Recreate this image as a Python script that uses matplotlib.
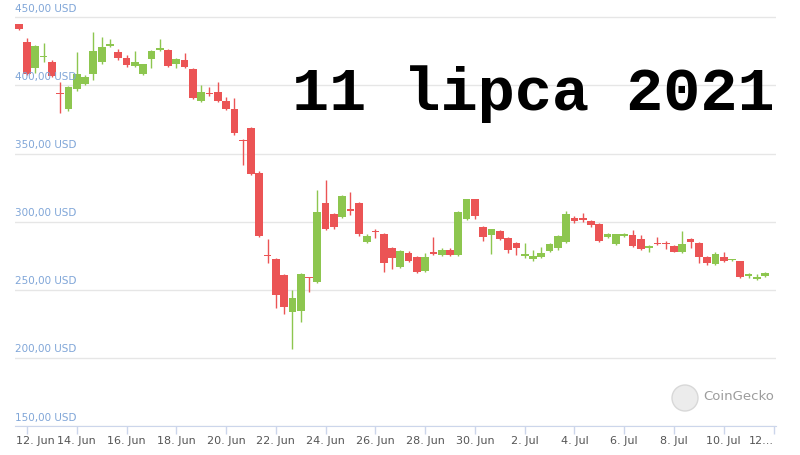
import matplotlib.pyplot as plt
import matplotlib.dates as mdates
from matplotlib.patches import Circle
from matplotlib.transforms import IdentityTransform
import numpy as np
import pandas as pd

# 8-hour candles, 11 Jun 16:00 -> 11 Jul 16:00 (USD)
opens = [444.9, 431.9, 413.0, 420.8, 417.0, 394.8, 382.5, 397.2, 400.9, 408.4,
         417.0, 429.0, 424.8, 420.0, 414.3, 408.4, 419.2, 426.0, 426.1, 415.8,
         418.7, 411.9, 388.8, 394.0, 395.4, 388.8, 382.5, 360.0, 368.6, 336.0,
         275.5, 272.4, 260.6, 233.5, 234.2, 258.8, 255.5, 313.5, 305.4, 303.2,
         309.1, 313.5, 284.9, 292.5, 290.7, 280.9, 267.0, 276.8, 274.3, 264.0,
         277.5, 275.4, 279.0, 275.6, 302.0, 316.4, 295.9, 290.2, 293.4, 287.8,
         284.1, 274.6, 272.6, 273.9, 278.5, 280.5, 284.9, 302.5, 302.5, 300.7,
         298.1, 289.0, 283.6, 289.5, 290.2, 287.1, 281.0, 284.6, 284.6, 282.4,
         278.0, 287.1, 284.1, 274.3, 268.7, 274.3, 271.6, 271.1, 260.1, 257.9,
         260.1]
highs = [445.5, 434.7, 429.5, 431.4, 418.5, 402.8, 399.5, 424.8, 407.5, 439.0,
         435.4, 433.8, 426.5, 422.5, 425.0, 416.0, 426.0, 433.8, 427.0, 420.0,
         423.5, 412.5, 400.4, 398.7, 402.8, 391.8, 390.6, 361.0, 369.5, 337.0,
         287.1, 273.0, 261.5, 249.9, 262.0, 259.5, 323.3, 330.6, 306.5, 319.5,
         321.6, 314.5, 291.0, 294.6, 291.5, 281.5, 279.5, 278.5, 275.0, 277.2,
         288.5, 280.5, 281.0, 308.0, 317.0, 317.0, 296.5, 295.0, 294.0, 288.5,
         285.0, 284.0, 279.2, 281.6, 284.5, 290.5, 307.9, 304.0, 306.6, 301.5,
         299.0, 291.5, 291.0, 291.5, 293.9, 290.0, 283.0, 288.5, 285.5, 283.0,
         293.2, 288.0, 285.0, 275.0, 278.0, 278.0, 272.5, 271.5, 262.5, 261.6,
         263.0]
lows = [440.5, 407.5, 409.0, 417.4, 406.5, 380.0, 381.5, 396.0, 400.0, 404.0,
        416.0, 428.0, 419.0, 413.5, 413.5, 407.5, 412.8, 425.0, 413.5, 413.0,
        412.5, 390.0, 388.0, 392.5, 388.0, 382.0, 364.0, 341.6, 334.5, 289.0,
        269.5, 236.4, 232.2, 206.5, 226.6, 248.6, 255.0, 294.0, 295.0, 302.5,
        305.0, 289.5, 284.0, 287.8, 263.3, 265.0, 266.0, 270.5, 262.0, 263.0,
        275.5, 274.5, 274.5, 275.0, 301.0, 302.0, 285.8, 276.1, 286.5, 276.8,
        275.6, 273.5, 271.5, 273.0, 277.5, 279.5, 284.0, 298.8, 300.0, 296.0,
        285.0, 288.0, 283.0, 288.5, 281.5, 279.0, 278.0, 283.0, 279.7, 277.5,
        277.0, 280.4, 269.5, 268.5, 268.0, 270.5, 271.0, 259.0, 259.0, 257.0,
        259.5]
closes = [441.2, 408.4, 429.0, 421.5, 407.0, 394.0, 398.7, 408.2, 406.5, 425.3,
          428.0, 430.5, 420.0, 415.0, 417.0, 415.5, 425.3, 427.3, 414.3, 419.2,
          413.4, 390.6, 395.4, 393.5, 388.8, 382.7, 364.9, 359.3, 335.0, 289.5,
          275.0, 246.0, 237.6, 244.2, 261.4, 258.4, 307.3, 294.6, 295.9, 318.9,
          307.9, 290.7, 289.5, 292.2, 269.5, 273.1, 278.5, 271.4, 262.9, 273.8,
          276.1, 279.2, 275.6, 306.9, 316.4, 304.4, 289.0, 294.4, 287.3, 279.2,
          280.9, 276.1, 274.8, 276.8, 283.4, 289.5, 305.4, 300.7, 301.3, 297.6,
          285.8, 290.7, 290.7, 290.7, 282.4, 279.7, 282.4, 283.4, 283.4, 278.0,
          283.6, 284.9, 273.8, 269.4, 276.1, 271.1, 271.9, 259.6, 261.6, 259.2,
          262.1]

y_ticks = [150, 200, 250, 300, 350, 400, 450]
x_tick_dates = pd.date_range("2021-06-12", "2021-07-12", freq="2D")
x_tick_labels = ["12. Jun", "14. Jun", "16. Jun", "18. Jun", "20. Jun", "22. Jun",
                 "24. Jun", "26. Jun", "28. Jun", "30. Jun", "2. Jul", "4. Jul",
                 "6. Jul", "8. Jul", "10. Jul", "12..."]
title = "11 lipca 2021"

UP = "#8dc64f"
DOWN = "#eb5455"

times = pd.date_range("2021-06-11 16:00", periods=len(opens), freq="8h")
x = mdates.date2num(times)
o = np.array(opens)
c = np.array(closes)
colors = [UP if cc >= oo else DOWN for oo, cc in zip(o, c)]

fig = plt.figure(figsize=(8, 4.55), dpi=100)
ax = fig.add_axes([15 / 800, 29 / 455, 761 / 800, 426 / 455])

ax.vlines(x, lows, highs, colors=colors, linewidth=1, zorder=2)
body = np.maximum(np.abs(c - o), 0.8)
ax.bar(x, body, bottom=np.minimum(o, c), width=0.31, color=colors,
       linewidth=0, zorder=3)

x0 = mdates.date2num(pd.Timestamp("2021-06-12"))
ax.set_xlim(x0 - 0.482, x0 + 30.1)
ax.set_ylim(150, 150 + 426 / 1.362)

ax.set_yticks(y_ticks)
ax.set_yticklabels([])
ax.tick_params(axis="y", length=0)
ax.grid(axis="y", color="#e6e6e6", linewidth=1, zorder=0)
for v in y_ticks:
    ax.text(0, v + 2.5, "%d,00 USD" % v, transform=ax.get_yaxis_transform(),
            ha="left", va="bottom", fontsize=7.5, color="#80a6d8")

tick_nums = mdates.date2num(x_tick_dates)
ax.set_xticks(tick_nums)
ax.set_xticklabels([])
ax.tick_params(axis="x", direction="out", length=6, color="#ccd6eb", width=1)
for i, (t, lab) in enumerate(zip(tick_nums, x_tick_labels)):
    ha = "center"
    if i == 0:
        ha = "left"
        t = t - 0.45
    elif i == len(x_tick_labels) - 1:
        ha = "right"
    ax.text(t, -0.036, lab, transform=ax.get_xaxis_transform(), ha=ha,
            va="center", fontsize=8, color="#555555")

for s in ["top", "left", "right"]:
    ax.spines[s].set_visible(False)
ax.spines["bottom"].set_color("#ccd6eb")

fig.text(775 / 800, 1 - 110 / 455, title, ha="right", va="baseline",
         fontsize=44.6, fontweight="bold",
         family=["Liberation Mono", "DejaVu Sans Mono"], color="black")

# CoinGecko watermark (pixel coordinates)
logo = Circle((685, 455 - 398), 13, transform=IdentityTransform(),
              facecolor="#ececec", edgecolor="#d8d8d8", lw=1)
fig.add_artist(logo)
fig.text(703 / 800, 1 - 397 / 455, "CoinGecko", ha="left", va="center",
         fontsize=9.5, color="#9c9c9c")

fig.savefig("out.png", dpi=100)
